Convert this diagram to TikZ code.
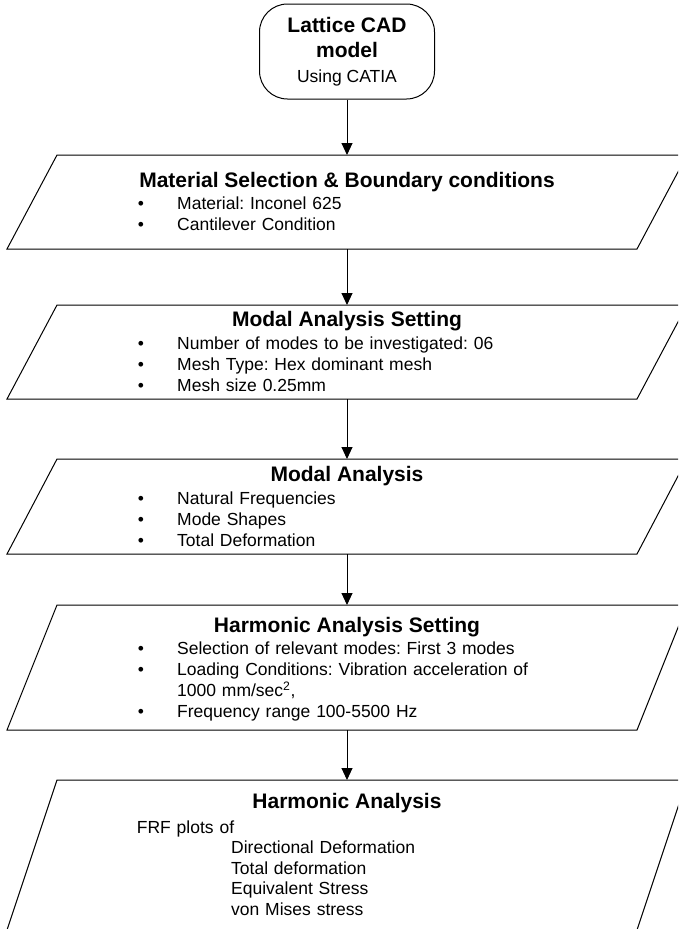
\documentclass[tikz,border=0pt]{standalone}
\usepackage{fontspec}
\setmainfont{Liberation Sans}
\usetikzlibrary{arrows.meta}

\newcommand{\bul}{\makebox[39.4pt][l]{•}}
\frenchspacing

\begin{document}
\begin{tikzpicture}[x=1pt, y=-1pt,
    start/.style={draw, rounded corners=28pt, minimum width=175pt, minimum height=95pt,
                  align=center, inner sep=0pt, line width=1pt,
                  font=\fontsize{21}{25}\selectfont\bfseries},
    io/.style={minimum width=630pt, inner sep=0pt, outer sep=0pt},
    head/.style={anchor=base, inner sep=0pt, font=\fontsize{21}{25}\selectfont\bfseries},
    lst/.style={anchor=base west, inner sep=0pt, text width=480pt, align=left,
                font=\fontsize{17.5}{21}\selectfont},
    arr/.style={-{Triangle[length=12pt, width=11pt]}, line width=1pt}
]
\useasboundingbox (0,0) rectangle (678,929);
\clip (0,0) rectangle (678,929);

% shapes
\node[start] (cad) at (347, 51.5)
  {Lattice CAD\\model\\{\fontsize{17.5}{25}\selectfont\mdseries Using CATIA}};
\node[io, minimum height=94pt]  (mat)   at (347, 202)   {};
\node[io, minimum height=94pt]  (mset)  at (347, 352)   {};
\node[io, minimum height=95pt]  (modal) at (347, 506.5) {};
\node[io, minimum height=125pt] (hset)  at (347, 667.5) {};
\node[io, minimum height=150pt] (harm)  at (347, 855)   {};

% slanted outlines
\foreach \n in {mat,mset,modal,hset,harm}
  \draw[line width=1pt] ([xshift=-25pt]\n.south west) -- ([xshift=-25pt]\n.south east)
    -- ([xshift=25pt]\n.north east) -- ([xshift=25pt]\n.north west) -- cycle;

% texts
\node[head] (math) at (347, 187) {Material Selection \& Boundary conditions};
\node[lst]  (matl) at (137.6, 209)
  {\bul Material: Inconel 625\\ \bul Cantilever Condition};

\node[head] (mseth) at (347, 326) {Modal Analysis Setting};
\node[lst]  (msetl) at (137.6, 349)
  {\bul Number of modes to be investigated: 06\\ \bul Mesh Type: Hex dominant mesh\\
   \bul Mesh size 0.25mm};

\node[head] (modalh) at (347, 481) {Modal Analysis};
\node[lst]  (modall) at (137.6, 504)
  {\bul Natural Frequencies\\ \bul Mode Shapes\\ \bul Total Deformation};

\node[head] (hseth) at (347, 632.7) {Harmonic Analysis Setting};
\node[lst]  (hsetl) at (137.6, 654.3)
  {\bul Selection of relevant modes: First 3 modes\\
   \bul Loading Conditions: Vibration acceleration of\\
   \hspace*{39.4pt}1000 mm/sec\textsuperscript{2},\\
   \bul Frequency range 100-5500 Hz};

\node[head] (harmh) at (347, 808) {Harmonic Analysis};
\node[lst, font=\fontsize{17.5}{20.6}\selectfont] (harml) at (136.7, 833)
  {FRF plots of\\
   \hspace*{94.3pt}Directional Deformation\\
   \hspace*{94.3pt}Total deformation\\
   \hspace*{94.3pt}Equivalent Stress\\
   \hspace*{94.3pt}von Mises stress};

% flow
\draw[arr] (cad)   -- (mat);
\draw[arr] (mat)   -- (mset);
\draw[arr] (mset)  -- (modal);
\draw[arr] (modal) -- (hset);
\draw[arr] (hset)  -- (harm);
\end{tikzpicture}
\end{document}
